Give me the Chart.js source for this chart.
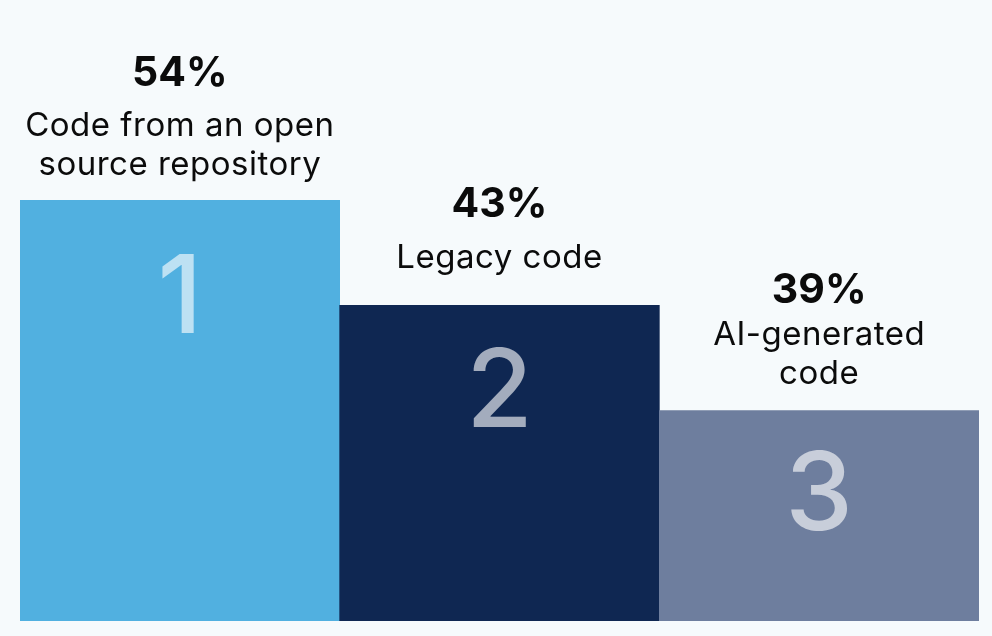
<!DOCTYPE html>
<html>
<head>
<meta charset="utf-8">
<script src="https://cdn.jsdelivr.net/npm/chart.js@4"></script>
<style>
  html, body { margin: 0; padding: 0; background: #f6fafc; }
  #wrap { width: 992px; height: 636px; position: relative; }
</style>
</head>
<body>
<div id="wrap"><canvas id="chart"></canvas></div>
<script>
// podium data
const ranks = ["1", "2", "3"];
const labelLines = [
  ["Code from an open", "source repository"],
  ["Legacy code"],
  ["AI-generated", "code"],
];
const percentages = [54, 43, 39];
const podiumHeights = [4, 3, 2];
const barColors = ["#51b0e0", "#0f2752", "#6e7e9e"];

const FONT = "Inter, 'Noto Sans', sans-serif";

// draws rank digit inside each bar and the % + caption above it
const podiumLabels = {
  id: "podiumLabels",
  afterDatasetsDraw(chart, args, opts) {
    const ctx = chart.ctx;
    const meta = chart.getDatasetMeta(0);
    ctx.save();
    ctx.textAlign = "center";
    ctx.textBaseline = "alphabetic";
    meta.data.forEach((bar, i) => {
      const x = bar.x;
      const top = bar.y;

      // big rank number
      ctx.letterSpacing = "0px";
      ctx.fillStyle = "rgba(255,255,255,0.62)";
      ctx.font = `500 108px ${FONT}`;
      ctx.fillText(ranks[i], x, top + opts.digitOffset[i]);

      // caption lines, bottom up
      const lines = labelLines[i];
      let y = top - opts.textGap[i];
      ctx.fillStyle = "#0b0b0b";
      ctx.font = `400 33px ${FONT}`;
      ctx.letterSpacing = "0.5px";
      for (let j = lines.length - 1; j >= 0; j--) {
        ctx.fillText(lines[j], x, y);
        if (j > 0) y -= opts.lineHeight;
      }

      // percentage
      ctx.letterSpacing = "0px";
      ctx.font = `700 41px ${FONT}`;
      ctx.fillText(`${percentages[i]}%`, x, y - opts.pctGap[i]);
    });
    ctx.restore();
  },
};

new Chart(document.getElementById("chart"), {
  type: "bar",
  data: {
    labels: ranks,
    datasets: [
      {
        data: podiumHeights,
        backgroundColor: barColors,
        borderWidth: 0,
        barPercentage: 1,
        categoryPercentage: 1,
      },
    ],
  },
  options: {
    responsive: true,
    maintainAspectRatio: false,
    animation: false,
    layout: { padding: { top: 200, bottom: 15, left: 20, right: 13 } },
    plugins: {
      legend: { display: false },
      tooltip: { enabled: false },
      podiumLabels: {
        digitOffset: [133, 122, 119],
        textGap: [25, 37, 27],
        lineHeight: 39,
        pctGap: [50, 51, 42],
      },
    },
    scales: {
      x: { display: false },
      y: { display: false, min: 0, max: 4 },
    },
  },
  plugins: [podiumLabels],
});
</script>
</body>
</html>
